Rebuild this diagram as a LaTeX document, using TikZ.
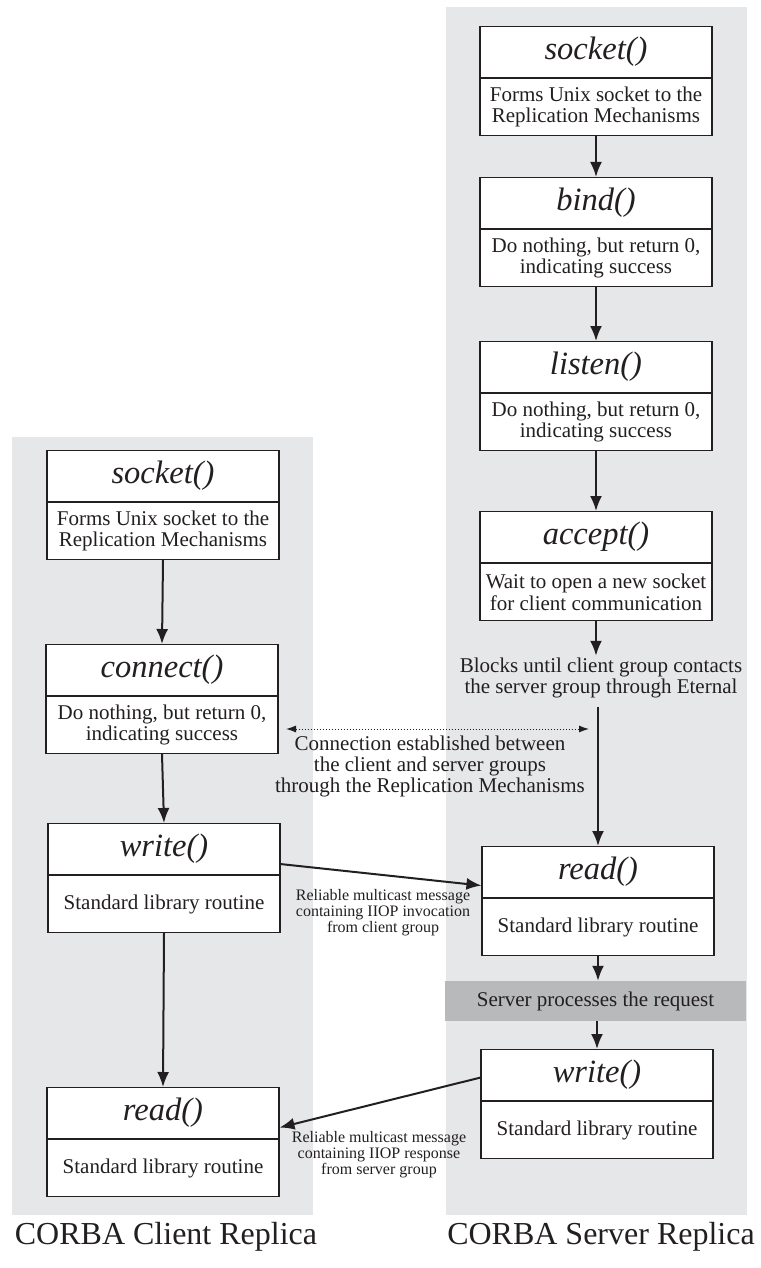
\documentclass[tikz,border=0pt]{standalone}
\usepackage{fontspec}
\setmainfont{Liberation Serif}
\usetikzlibrary{arrows.meta,calc}

\definecolor{panel}{HTML}{E6E7E8}
\definecolor{procbar}{HTML}{B8B9BB}
\definecolor{ink}{HTML}{231F20}

\tikzset{
  fn/.style={draw=ink, line width=1.1pt, fill=white, minimum width=232pt,
    minimum height=51pt, inner sep=0pt, text=ink,
    font=\fontsize{32.5}{32.5}\selectfont\itshape},
  fnbody/.style={draw=ink, line width=1.1pt, fill=white, minimum width=232pt,
    minimum height=57pt, inner sep=0pt, align=center, text=ink,
    font=\fontsize{21}{21.5}\selectfont},
  flow/.style={draw=ink, line width=2pt, -{Latex[length=15pt,width=12pt]}},
  link/.style={draw=ink, line width=1pt, dotted,
    {Latex[length=10pt,width=7pt]}-{Latex[length=10pt,width=7pt]}},
  note/.style={align=center, inner sep=0pt, text=ink,
    font=\fontsize{21}{21}\selectfont},
  smallnote/.style={align=center, inner sep=0pt, text=ink,
    font=\fontsize{16}{16}\selectfont},
  caption/.style={inner sep=0pt, text=ink, font=\fontsize{32}{32}\selectfont},
}

% a call box: italic function name on top, description below
\newcommand\callbox[5]{%
  \node[fn, anchor=north] (#1) at (#2,#3) {#4};
  \node[fnbody, anchor=north] (#1b) at (#1.south) {#5};
}

\begin{document}
\begin{tikzpicture}[x=1pt, y=-1pt]
\useasboundingbox (0,0) rectangle (760,1268);

% replica backgrounds
\fill[panel] (446,7) rectangle (747,1215);
\fill[panel] (12,437) rectangle (313,1215);

% server replica
\callbox{ssock}{596}{26}{socket()}{Forms Unix socket to the\\Replication Mechanisms}
\callbox{sbind}{596}{177}{bind()}{Do nothing, but return 0,\\indicating success}
\callbox{slisten}{596}{341}{listen()}{Do nothing, but return 0,\\indicating success}
\callbox{saccept}{596}{511}{accept()}{Wait to open a new socket\\for client communication}
\callbox{sread}{598}{846}{read()}{Standard library routine}
\callbox{swrite}{597}{1049}{write()}{Standard library routine}

\node[fill=procbar, minimum width=301pt, minimum height=40pt, inner sep=0pt,
  text=ink, font=\fontsize{21}{21}\selectfont] (proc) at (595.5,1001)
  {Server processes the request};

\node[note] (blocks) at (601,678)
  {Blocks until client group contacts\\the server group through Eternal};

% client replica
\callbox{csock}{163}{450}{socket()}{Forms Unix socket to the\\Replication Mechanisms}
\callbox{cconn}{162}{644}{connect()}{Do nothing, but return 0,\\indicating success}
\callbox{cwrite}{164}{823}{write()}{Standard library routine}
\callbox{cread}{163}{1087}{read()}{Standard library routine}

\node[note] (conn) at (430,766)
  {Connection established between\\the client and server groups\\through the Replication Mechanisms};
\node[smallnote] (inv) at (383,913)
  {Reliable multicast message\\containing IIOP invocation\\from client group};
\node[smallnote] (resp) at (379,1155)
  {Reliable multicast message\\containing IIOP response\\from server group};

\node[caption] (ccap) at (166,1237) {CORBA Client Replica};
\node[caption] (scap) at (601,1237) {CORBA Server Replica};

% server flow
\draw[flow] (ssockb.south) -- (sbind.north);
\draw[flow] (sbindb.south) -- (slisten.north);
\draw[flow] (slistenb.south) -- (saccept.north);
\draw[flow, shorten >=2pt] (sacceptb.south) -- (sacceptb.south |- blocks.north);
\draw[flow, shorten <=9pt] (blocks.south -| sread.north) -- (sread.north);
\draw[flow] (sreadb.south) -- (sreadb.south |- proc.north);
\draw[flow] (proc.south -| swrite.north) -- (swrite.north);

% client flow
\draw[flow] (csockb.south) -- (cconn.north);
\draw[flow] (cconnb.south) -- (cwrite.north);
\draw[flow] (cwriteb.south) -- (cread.north);

% messages between the groups
\draw[flow] ([yshift=-15pt]cwrite.east) -- ([yshift=-13.5pt]sread.west);
\draw[flow] ([yshift=-2.5pt]swrite.west) -- ([yshift=-14.5pt]cread.east);

\coordinate (cl) at (286,729);
\coordinate (cr) at (589,729);
\draw[link] (cl) -- (cr);

\end{tikzpicture}
\end{document}
